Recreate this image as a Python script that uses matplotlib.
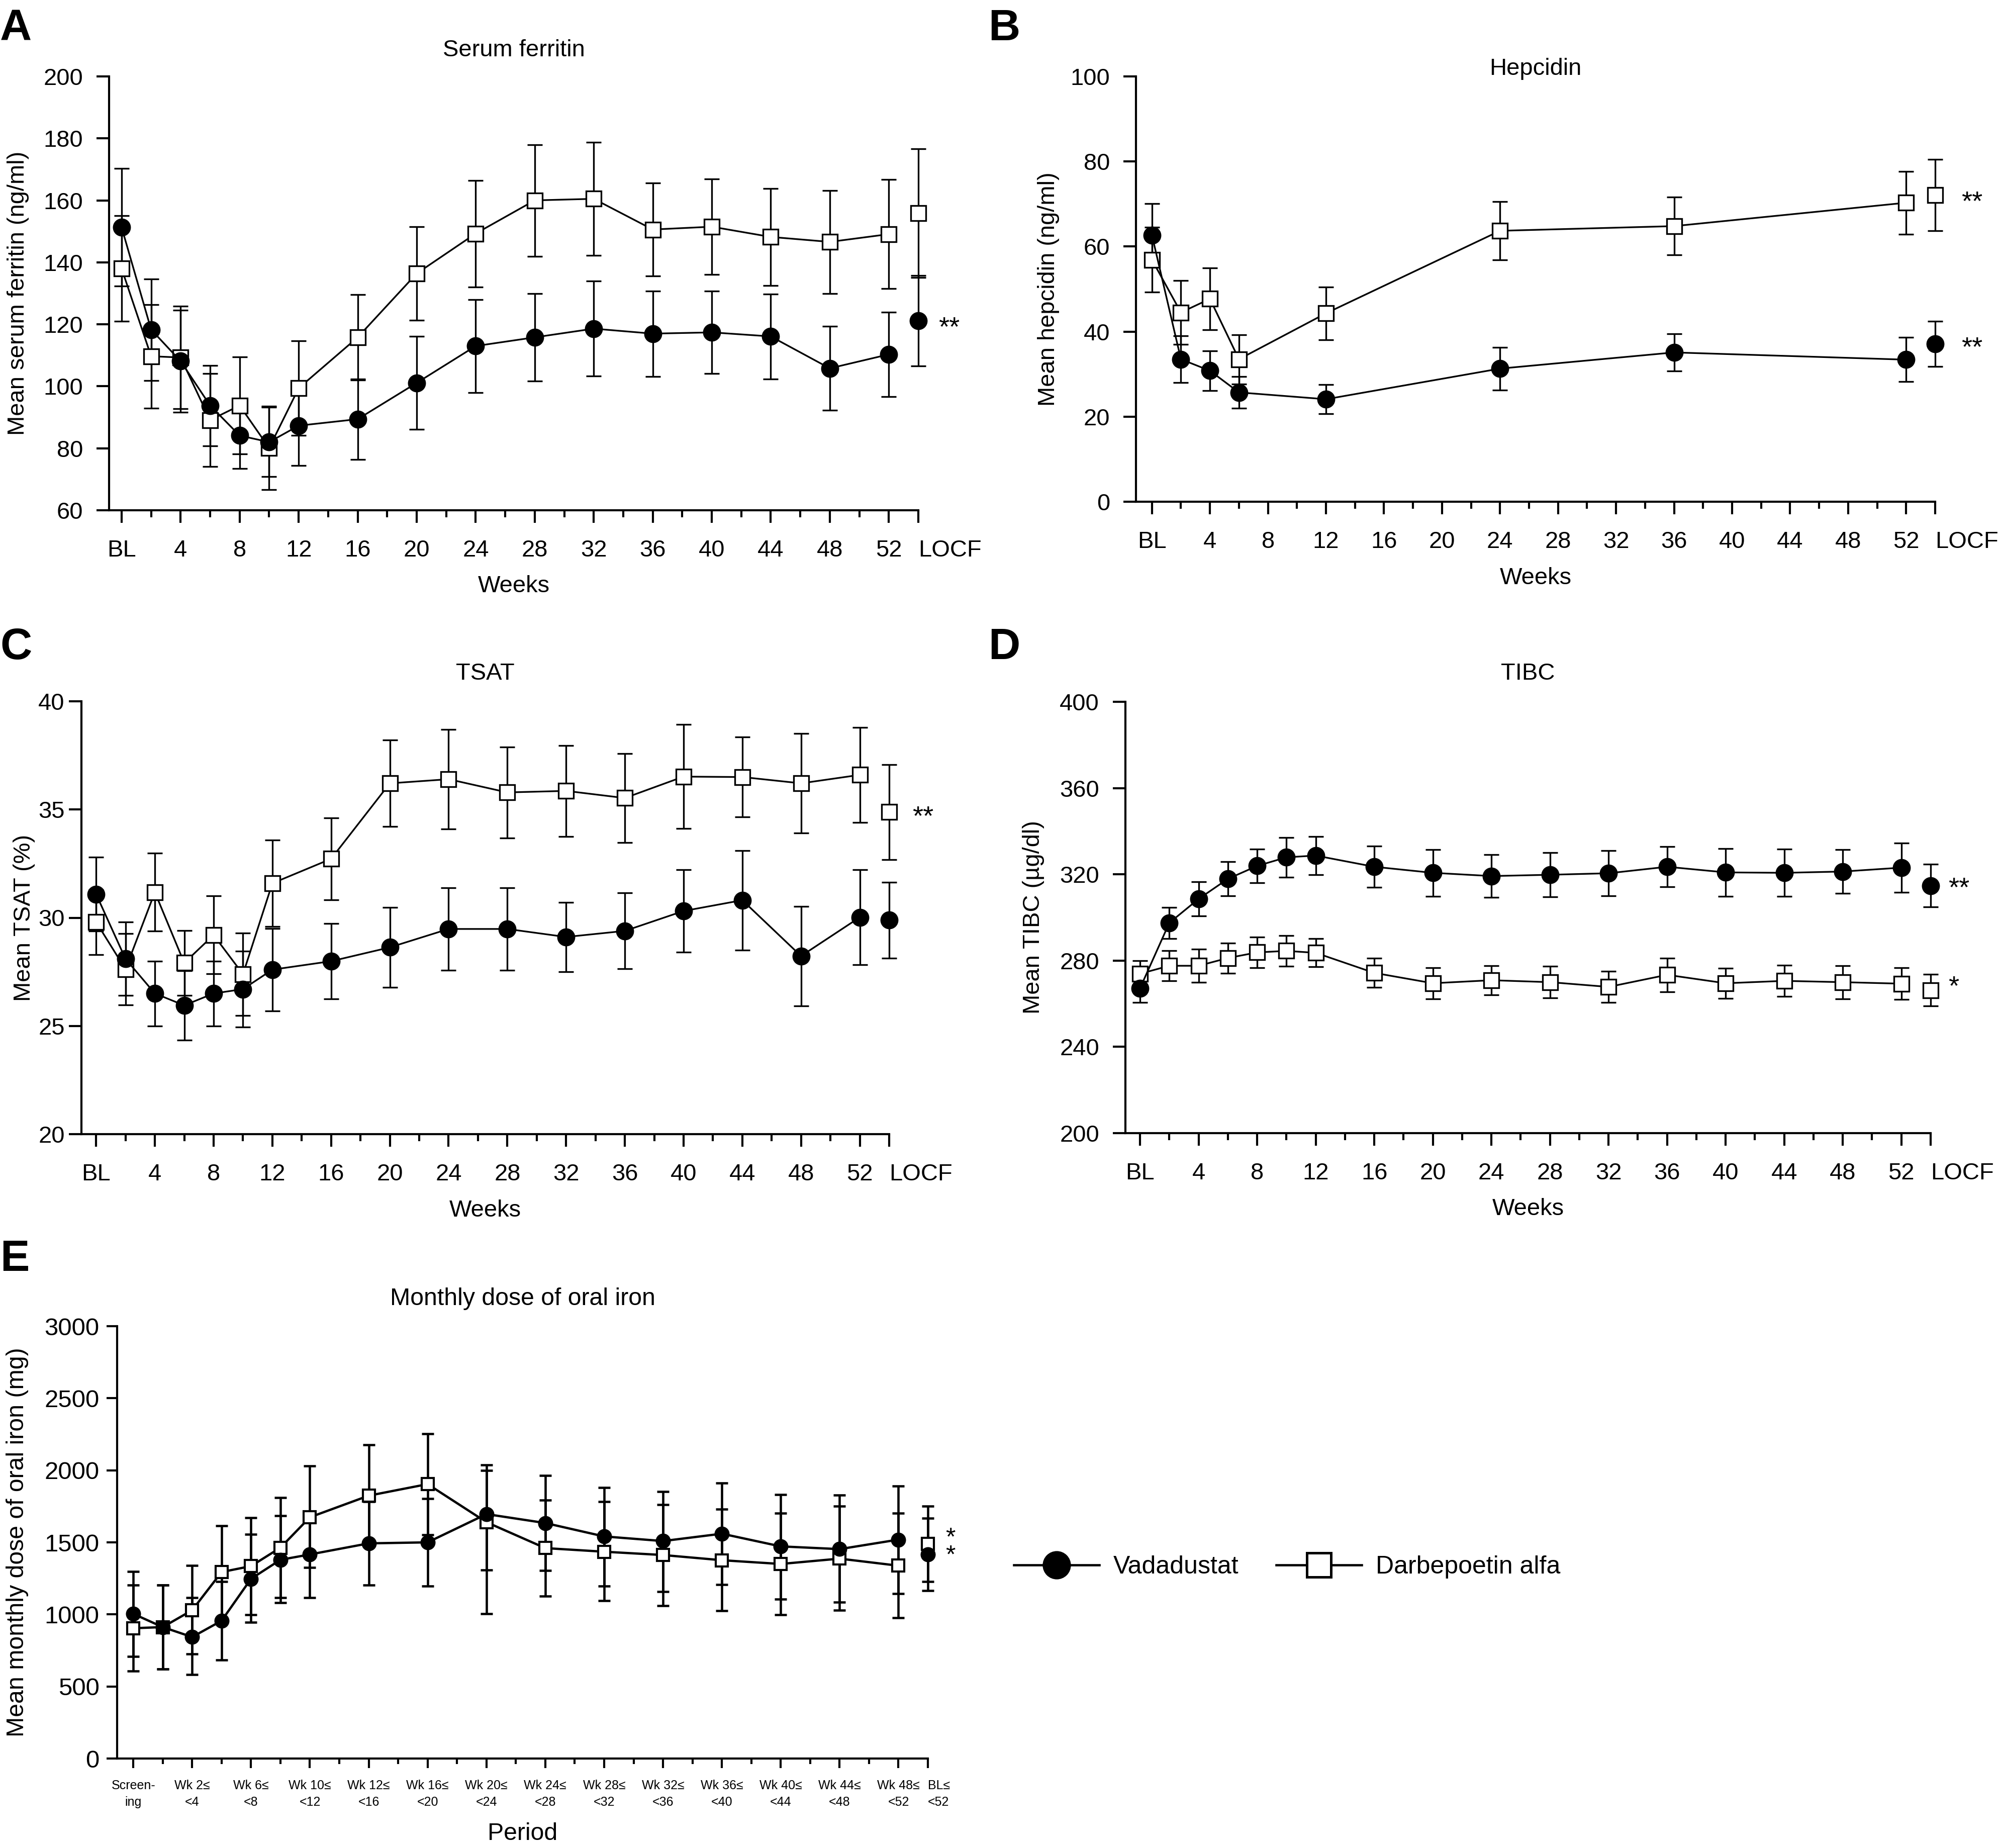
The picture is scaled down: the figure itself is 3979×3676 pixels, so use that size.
import matplotlib

matplotlib.use("Agg")
import matplotlib.pyplot as plt
from matplotlib.lines import Line2D

plt.rcParams["font.family"] = ["Liberation Sans", "DejaVu Sans"]

W, H = 3979, 3676
DPI = 300

# x positions (weeks); LOCF drawn as an extra slot after week 52
WEEKS = [0, 2, 4, 6, 8, 10, 12, 16, 20, 24, 28, 32, 36, 40, 44, 48, 52]
HEP_WEEKS = [0, 2, 4, 6, 12, 24, 36, 52]
LOCF = 54
WEEK_TICKS = list(range(0, 53, 4)) + [LOCF]
WEEK_MINOR = list(range(2, 51, 4))
WEEK_LABELS = ["BL"] + [str(w) for w in range(4, 53, 4)] + ["LOCF"]

# A: serum ferritin (ng/ml)
ferr_vad = [151.3, 118.3, 108.1, 93.8, 84.1, 82.0, 87.3, 89.4, 101.1, 113.0,
            115.8, 118.6, 117.0, 117.4, 116.1, 105.8, 110.3, 121.1]
ferr_vad_err = [19.0, 16.4, 16.5, 13.0, 10.6, 11.2, 12.8, 13.0, 15.0, 15.0,
                14.1, 15.3, 13.8, 13.3, 13.7, 13.5, 13.6, 14.6]
ferr_darb = [138.0, 109.7, 109.3, 89.1, 93.8, 80.1, 99.4, 115.8, 136.4, 149.3,
             160.0, 160.5, 150.6, 151.5, 148.2, 146.6, 149.1, 155.9]
ferr_darb_err = [17.0, 16.7, 16.5, 15.0, 15.6, 13.5, 15.3, 13.8, 15.1, 17.2,
                 18.0, 18.2, 15.0, 15.4, 15.7, 16.6, 17.6, 20.8]

# B: hepcidin (ng/ml)
hep_vad = [62.7, 33.5, 30.8, 25.7, 24.1, 31.3, 35.1, 33.4, 37.1]
hep_vad_err = [7.4, 5.5, 4.7, 3.7, 3.4, 5.0, 4.4, 5.2, 5.3]
hep_darb = [56.9, 44.5, 47.7, 33.5, 44.3, 63.7, 64.8, 70.3, 72.1]
hep_darb_err = [7.6, 7.5, 7.3, 5.8, 6.2, 6.9, 6.8, 7.4, 8.4]

# C: TSAT (%)
tsat_vad = [31.09, 28.1, 26.5, 25.95, 26.5, 26.7, 27.6, 27.99, 28.63, 29.48,
            29.48, 29.11, 29.39, 30.31, 30.81, 28.23, 30.02, 29.89]
tsat_vad_err = [1.7, 1.7, 1.5, 1.6, 1.5, 1.75, 1.9, 1.75, 1.85, 1.9,
                1.9, 1.6, 1.75, 1.9, 2.3, 2.3, 2.2, 1.75]
tsat_darb = [29.8, 27.62, 31.18, 27.91, 29.2, 27.39, 31.59, 32.72, 36.21, 36.4,
             35.79, 35.86, 35.53, 36.52, 36.5, 36.21, 36.6, 34.88]
tsat_darb_err = [1.5, 1.65, 1.8, 1.5, 1.8, 1.9, 2.0, 1.9, 2.0, 2.3,
                 2.1, 2.1, 2.05, 2.4, 1.85, 2.3, 2.2, 2.2]

# D: TIBC (ug/dl)
tibc_vad = [267.2, 297.5, 308.6, 317.9, 323.9, 327.9, 328.7, 323.5, 320.7, 319.2,
            319.8, 320.5, 323.5, 320.9, 320.7, 321.3, 323.1, 314.8]
tibc_vad_err = [6.5, 7.2, 7.9, 7.9, 7.9, 9.2, 8.8, 9.5, 10.8, 9.9,
                10.3, 10.4, 9.3, 11.0, 11.0, 10.2, 11.5, 10.0]
tibc_darb = [273.9, 277.6, 277.6, 281.2, 283.8, 284.5, 283.6, 274.3, 269.5, 270.9,
             270.0, 267.8, 273.4, 269.5, 270.6, 270.0, 269.3, 266.3]
tibc_darb_err = [6.0, 7.0, 7.7, 7.0, 7.0, 7.0, 6.5, 6.8, 7.2, 6.7,
                 7.3, 7.2, 7.8, 7.0, 7.3, 7.7, 7.4, 7.4]

# E: monthly dose of oral iron (mg), one slot per period on the x axis
iron_slots = [0, 1, 2, 3, 4, 5, 6, 8, 10, 12, 14, 16, 18, 20, 22, 24, 26, 27]
iron_vad = [1004, 912, 843, 956, 1247, 1379, 1416, 1493, 1500, 1696,
            1634, 1541, 1509, 1560, 1472, 1453, 1519, 1416]
iron_vad_lo = [297, 290, 262, 272, 301, 298, 298, 290, 302, 387,
               328, 345, 350, 354, 365, 368, 375, 250]
iron_vad_hi = [295, 290, 272, 273, 309, 305, 298, 290, 302, 342,
               331, 338, 344, 353, 360, 375, 372, 253]
iron_darb = [904, 912, 1029, 1294, 1335, 1463, 1674, 1824, 1904, 1640,
             1460, 1435, 1412, 1376, 1350, 1387, 1338, 1490]
iron_darb_lo = [297, 292, 304, 321, 336, 345, 350, 352, 353, 636,
                334, 339, 352, 350, 353, 358, 360, 262]
iron_darb_hi = [299, 292, 309, 321, 336, 347, 355, 352, 350, 360,
                334, 346, 350, 353, 353, 363, 365, 261]
PERIOD_TICKS = list(range(0, 27, 2)) + [27]
PERIOD_MINOR = list(range(1, 26, 2))
PERIOD_LABELS = ["Screen-\ning", "Wk 2\u2264\n<4", "Wk 6\u2264\n<8", "Wk 10\u2264\n<12",
                 "Wk 12\u2264\n<16", "Wk 16\u2264\n<20", "Wk 20\u2264\n<24", "Wk 24\u2264\n<28",
                 "Wk 28\u2264\n<32", "Wk 32\u2264\n<36", "Wk 36\u2264\n<40", "Wk 40\u2264\n<44",
                 "Wk 44\u2264\n<48", "Wk 48\u2264\n<52", "BL\u2264\n<52"]

FS = 11.3


def px(x, y):
    return x / W, 1 - y / H


def add_axes(left, top, right, bottom):
    return fig.add_axes([left / W, 1 - bottom / H, (right - left) / W, (bottom - top) / H])


def series(ax, x, y, err, marker, face, ms, lw, cap, z):
    ax.errorbar(x, y, yerr=err, fmt="none", ecolor="black", elinewidth=lw,
                capsize=cap, capthick=lw, zorder=2, clip_on=False)
    style = dict(marker=marker, color="black", mfc=face, mec="black", ms=ms,
                 mew=lw, lw=lw, clip_on=False, zorder=z)
    ax.plot(x[:-1], y[:-1], **style)
    ax.plot(x[-1:], y[-1:], ls="none", **style)


def style_axes(ax, lw=1.0, tlen=6.0, minor_len=3.4, xpad=8.0, ypad=6.5):
    for side in ("top", "right"):
        ax.spines[side].set_visible(False)
    for side in ("left", "bottom"):
        ax.spines[side].set_linewidth(lw)
    ax.tick_params(which="major", direction="out", length=tlen, width=lw, labelsize=FS)
    ax.tick_params(which="minor", direction="out", length=minor_len, width=lw)
    ax.tick_params(axis="x", pad=xpad)
    ax.tick_params(axis="y", pad=ypad)
    # last label (LOCF / BL<52) sits to the right of its tick
    ax.get_xticklabels()[-1].set_horizontalalignment("left")


def label_panel(ax, box, title, title_y, ylabel, ylabel_x, xlabel, xlabel_y, fs_lab=FS):
    left, top, right, bottom = box
    cx = (left + right) / 2
    fig.text(*px(cx, title_y), title, ha="center", va="center", fontsize=fs_lab)
    fig.text(*px(cx, xlabel_y), xlabel, ha="center", va="center", fontsize=fs_lab)
    fig.text(*px(ylabel_x, (top + bottom) / 2), ylabel, ha="center", va="center",
             rotation=90, fontsize=fs_lab)


def stars(ax, x, y, text, dx, dy, fs=13, spacing=1.2):
    ax.annotate(text, (x, y), xytext=(dx, dy), textcoords="offset points",
                ha="left", va="baseline", fontsize=fs, linespacing=spacing,
                annotation_clip=False)


def week_panel(box, xleft, vad, vad_err, darb, darb_err, weeks, ylim, yticks, ypad=6.5):
    ax = add_axes(*box)
    x = weeks + [LOCF]
    series(ax, x, darb, darb_err, "s", "white", 7.3, 0.8, 3.5, 3)
    series(ax, x, vad, vad_err, "o", "black", 7.8, 0.8, 3.5, 4)
    ax.set_xlim(xleft, LOCF)
    ax.set_ylim(*ylim)
    ax.set_yticks(yticks)
    ax.set_xticks(WEEK_TICKS)
    ax.set_xticklabels(WEEK_LABELS)
    ax.set_xticks(WEEK_MINOR, minor=True)
    style_axes(ax, ypad=ypad)
    return ax


fig = plt.figure(figsize=(W / DPI, H / DPI), dpi=DPI)

# panel letters
for letter, (lx, ly) in zip("ABCDE", [(0, 80), (1966, 80), (0, 1311), (1966, 1311), (0, 2528)]):
    fig.text(*px(lx, ly), letter, fontsize=21, fontweight="bold", ha="left", va="baseline")

# A
box_a = (217, 152, 1827, 1015)
ax_a = week_panel(box_a, -0.85, ferr_vad, ferr_vad_err, ferr_darb, ferr_darb_err,
                  WEEKS, (60, 200), range(60, 201, 20))
label_panel(ax_a, box_a, "Serum ferritin", 100, "Mean serum ferritin (ng/ml)", 36, "Weeks", 1166)
stars(ax_a, LOCF, ferr_vad[-1], "**", 9.5, -7)

# B
box_b = (2260, 152, 3850, 998)
ax_b = week_panel(box_b, -1.1, hep_vad, hep_vad_err, hep_darb, hep_darb_err,
                  HEP_WEEKS, (0, 100), range(0, 101, 20))
label_panel(ax_b, box_b, "Hepcidin", 137, "Mean hepcidin (ng/ml)", 2086, "Weeks", 1150)
stars(ax_b, LOCF, hep_darb[-1], "**", 12.5, -7)
stars(ax_b, LOCF, hep_vad[-1], "**", 12.5, -5.5)

# C
box_c = (162, 1395, 1769, 2256)
ax_c = week_panel(box_c, -1.0, tsat_vad, tsat_vad_err, tsat_darb, tsat_darb_err,
                  WEEKS, (20, 40), range(20, 41, 5), ypad=2.0)
label_panel(ax_c, box_c, "TSAT", 1340, "Mean TSAT (%)", 48, "Weeks", 2408)
stars(ax_c, LOCF, tsat_darb[-1], "**", 11, -6)

# D
box_d = (2239, 1396, 3841, 2254)
ax_d = week_panel(box_d, -1.0, tibc_vad, tibc_vad_err, tibc_darb, tibc_darb_err,
                  WEEKS, (200, 400), range(200, 401, 40))
label_panel(ax_d, box_d, "TIBC", 1340, "Mean TIBC (\u00b5g/dl)", 2056, "Weeks", 2405)
stars(ax_d, LOCF, tibc_vad[-1], "**", 8.5, -5)
stars(ax_d, LOCF, tibc_darb[-1], "*", 8.5, -2)

# E
box_e = (233, 2638, 1846, 3498)
ax_e = add_axes(*box_e)
ax_e.errorbar(iron_slots, iron_darb, yerr=[iron_darb_lo, iron_darb_hi], fmt="none",
              ecolor="black", elinewidth=1.1, capsize=2.8, capthick=1.1, zorder=2, clip_on=False)
ax_e.errorbar(iron_slots, iron_vad, yerr=[iron_vad_lo, iron_vad_hi], fmt="none",
              ecolor="black", elinewidth=1.1, capsize=2.8, capthick=1.1, zorder=2, clip_on=False)
for y, mk, face, ms, z in [(iron_darb, "s", "white", 5.6, 3), (iron_vad, "o", "black", 6.2, 4)]:
    st = dict(marker=mk, color="black", mfc=face, mec="black", ms=ms, mew=1.0, lw=1.1,
              clip_on=False, zorder=z)
    ax_e.plot(iron_slots[:-1], y[:-1], **st)
    ax_e.plot(iron_slots[-1:], y[-1:], ls="none", **st)
ax_e.set_xlim(-0.55, 27)
ax_e.set_ylim(0, 3000)
ax_e.set_yticks(range(0, 3001, 500))
ax_e.set_xticks(PERIOD_TICKS)
ax_e.set_xticklabels(PERIOD_LABELS, fontsize=6, linespacing=1.45)
ax_e.set_xticks(PERIOD_MINOR, minor=True)
style_axes(ax_e, tlen=4.6, minor_len=2.6, xpad=5.5, ypad=3.5)
ax_e.tick_params(axis="y", labelsize=11.8, length=5.0)
ax_e.tick_params(axis="x", which="major", labelsize=6)
label_panel(ax_e, box_e, "Monthly dose of oral iron", 2583,
            "Mean monthly dose of oral iron (mg)", 35, "Period", 3647, fs_lab=11.6)
# one star per group at the BL<52 slot, stacked
stars(ax_e, 27, iron_darb[-1], "*\n*", 8.5, -9, fs=12, spacing=0.69)

# legend
handles = [
    Line2D([], [], color="black", lw=1.1, marker="o", mfc="black", mec="black", ms=12.5),
    Line2D([], [], color="black", lw=1.1, marker="s", mfc="white", mec="black", ms=11.5, mew=1.2),
]
fig.legend(handles, ["Vadadustat", "Darbepoetin alfa"], loc="center left",
           bbox_to_anchor=px(2017, 3117), ncol=2, frameon=False, fontsize=12,
           handlelength=3.4, handletextpad=0.55, columnspacing=1.5, borderpad=0,
           borderaxespad=0)

fig.savefig("out.png", dpi=DPI)
